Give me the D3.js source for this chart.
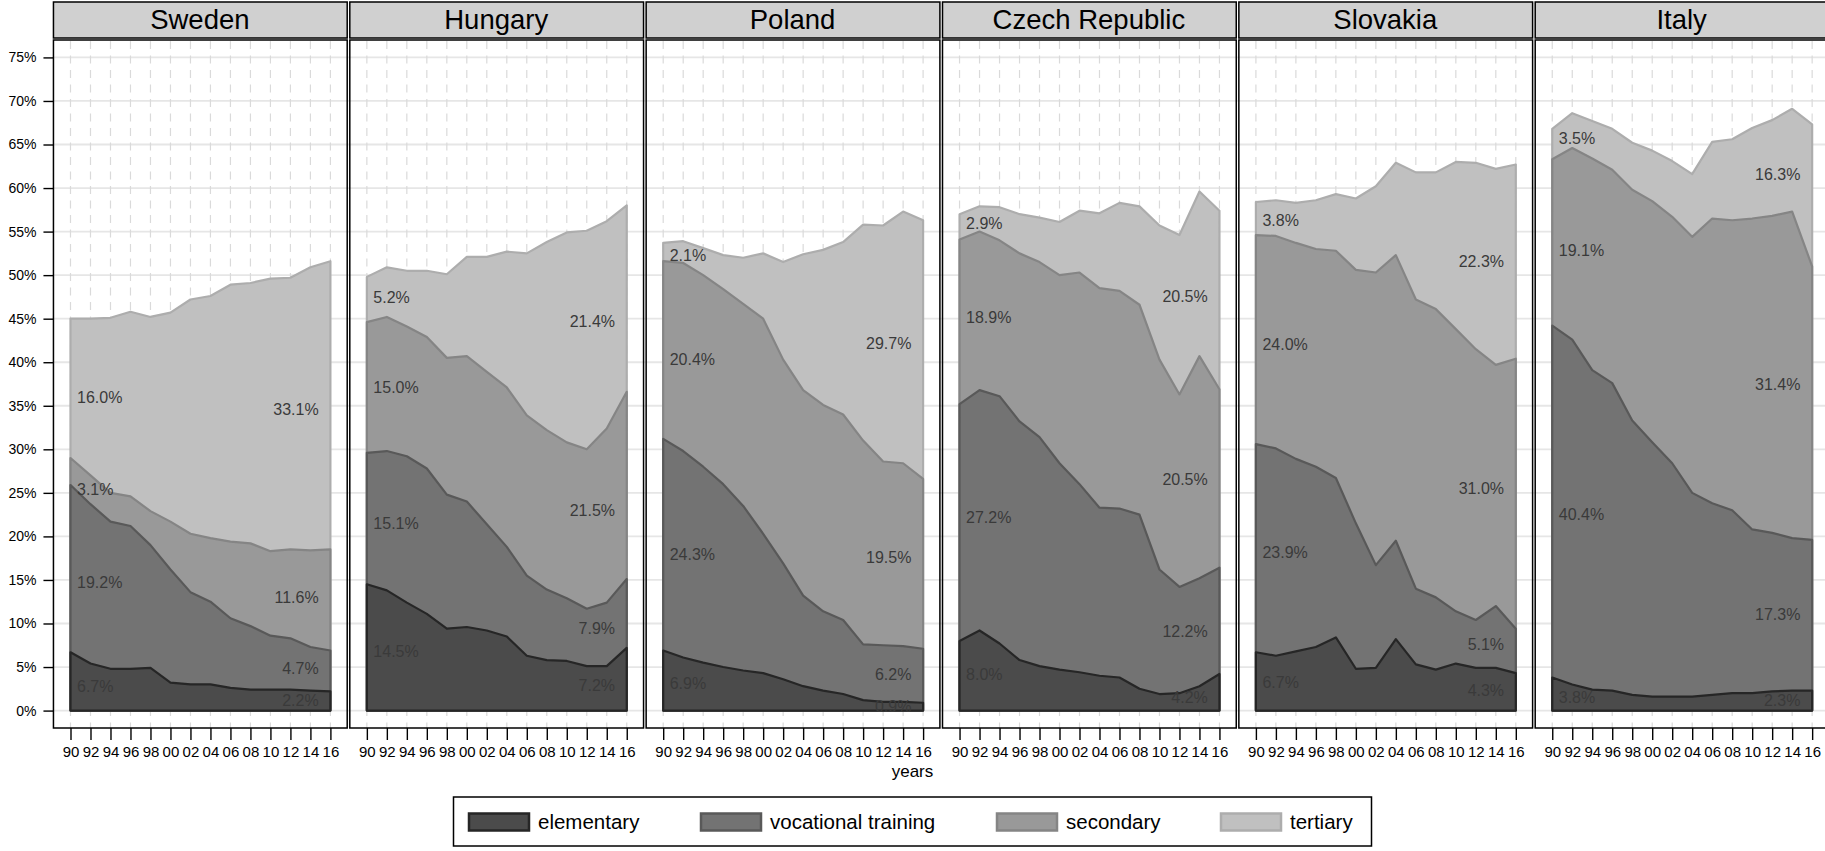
<!DOCTYPE html>
<html>
<head>
<meta charset="utf-8">
<script src="https://cdn.jsdelivr.net/npm/d3@7"></script>
<style>
  body { margin: 0; background: #fff; }
  text { font-family: "Liberation Sans", Arial, Helvetica, sans-serif; }
</style>
</head>
<body>
<svg id="chart" width="1825" height="851"></svg>
<script>
// ---- data: share of population by highest education level, per country ----
const years = [1990, 1992, 1994, 1996, 1998, 2000, 2002, 2004, 2006, 2008, 2010, 2012, 2014, 2016];
const yearTickLabels = ["90", "92", "94", "96", "98", "00", "02", "04", "06", "08", "10", "12", "14", "16"];
const countries = ["Sweden", "Hungary", "Poland", "Czech Republic", "Slovakia", "Italy"];
const levels = ["elementary", "vocational training", "secondary", "tertiary"];
const yTicks = [0, 5, 10, 15, 20, 25, 30, 35, 40, 45, 50, 55, 60, 65, 70, 75];

// one row per country, in the order of `countries`
const elementary = [
  [6.7, 5.4, 4.8, 4.8, 4.9, 3.2, 3.0, 3.0, 2.6, 2.4, 2.4, 2.4, 2.3, 2.2],
  [14.5, 13.8, 12.4, 11.1, 9.4, 9.6, 9.2, 8.5, 6.3, 5.8, 5.7, 5.1, 5.1, 7.2],
  [6.9, 6.1, 5.5, 5.0, 4.6, 4.3, 3.6, 2.8, 2.3, 1.9, 1.2, 1.0, 1.0, 0.9],
  [8.0, 9.2, 7.7, 5.8, 5.1, 4.7, 4.4, 4.0, 3.8, 2.5, 1.9, 2.0, 2.8, 4.2],
  [6.7, 6.3, 6.8, 7.3, 8.4, 4.8, 4.9, 8.2, 5.3, 4.7, 5.4, 4.9, 4.9, 4.3],
  [3.8, 3.0, 2.4, 2.3, 1.8, 1.6, 1.6, 1.6, 1.8, 2.0, 2.0, 2.2, 2.3, 2.3]
];
const vocational = [
  [19.2, 18.3, 16.9, 16.4, 14.1, 13.0, 10.6, 9.5, 8.0, 7.3, 6.2, 5.9, 5.0, 4.7],
  [15.1, 16.0, 16.8, 16.7, 15.4, 14.4, 12.2, 10.3, 9.2, 8.1, 7.2, 6.6, 7.3, 7.9],
  [24.3, 23.7, 22.5, 21.0, 18.9, 16.0, 13.3, 10.4, 9.1, 8.5, 6.4, 6.5, 6.4, 6.2],
  [27.2, 27.6, 28.4, 27.4, 26.3, 23.7, 21.6, 19.3, 19.4, 20.0, 14.3, 12.2, 12.4, 12.2],
  [23.9, 23.8, 22.1, 20.7, 18.3, 16.7, 11.8, 11.3, 8.7, 8.3, 6.0, 5.5, 7.1, 5.1],
  [40.4, 39.6, 36.7, 35.3, 31.5, 29.2, 26.8, 23.4, 22.0, 21.0, 18.8, 18.2, 17.5, 17.3]
];
const secondary = [
  [3.1, 3.3, 3.3, 3.4, 3.9, 5.5, 6.7, 7.3, 8.8, 9.5, 9.7, 10.2, 11.1, 11.6],
  [15.0, 15.4, 14.9, 15.1, 15.7, 16.7, 17.5, 18.3, 18.4, 18.3, 17.9, 18.3, 20.0, 21.5],
  [20.4, 21.6, 22.0, 22.4, 23.2, 24.7, 23.4, 23.6, 23.7, 23.6, 23.4, 21.1, 21.0, 19.5],
  [18.9, 18.2, 17.9, 19.3, 20.1, 21.6, 24.3, 25.2, 25.0, 24.1, 24.1, 22.1, 25.5, 20.5],
  [24.0, 24.4, 24.8, 25.0, 26.1, 29.1, 33.6, 32.8, 33.2, 33.1, 32.4, 31.1, 27.7, 31.0],
  [19.1, 22.0, 24.3, 24.5, 26.5, 27.7, 28.3, 29.4, 32.7, 33.3, 35.7, 36.4, 37.5, 31.4]
];
const tertiary = [
  [16.0, 18.0, 20.1, 21.2, 22.3, 24.0, 26.9, 27.8, 29.5, 29.9, 31.3, 31.2, 32.5, 33.1],
  [5.2, 5.7, 6.4, 7.6, 9.6, 11.4, 13.2, 15.6, 18.6, 21.6, 24.1, 25.1, 23.8, 21.4],
  [2.1, 2.5, 3.1, 3.9, 5.3, 7.5, 11.2, 15.6, 17.8, 19.8, 24.8, 27.1, 28.9, 29.7],
  [2.9, 2.9, 3.8, 4.5, 5.1, 6.1, 7.1, 8.6, 10.1, 11.3, 15.4, 18.3, 18.9, 20.5],
  [3.8, 4.1, 4.6, 5.6, 6.5, 8.2, 9.9, 10.6, 14.6, 15.7, 19.2, 21.4, 22.5, 22.3],
  [3.5, 4.0, 4.3, 4.7, 5.4, 5.8, 6.4, 7.2, 8.8, 9.3, 10.4, 11.0, 11.8, 16.3]
];
const seriesByLevel = [elementary, vocational, secondary, tertiary];

// ---- styling ----
const fills   = ["#4b4b4b", "#737373", "#999999", "#c0c0c0"];
const strokes = ["#262626", "#595959", "#858585", "#adadad"];
const labelColor = "#3a3a3a";

// ---- layout ----
const svg = d3.select("#chart");
const panelW = 296.35, firstPanelX = 52.7;
const panelTop = 40, panelBottom = 728;
const stripTop = 2, stripBottom = 38;
const y = d3.scaleLinear().domain([-2, 77]).range([panelBottom, panelTop]);
const fmt = v => v.toFixed(1) + "%";

countries.forEach((country, ci) => {
  const L = firstPanelX + ci * panelW;
  const x = d3.scaleLinear().domain([1990, 2016]).range([L + 17.8, L + 277.7]);
  const g = svg.append("g").attr("class", "panel");

  // background grid: solid horizontal lines, dashed verticals
  g.selectAll("line.hgrid").data(yTicks).join("line")
    .attr("class", "hgrid")
    .attr("x1", L).attr("x2", L + panelW)
    .attr("y1", d => y(d)).attr("y2", d => y(d))
    .attr("stroke", "#e6e6e6").attr("stroke-width", 1.8);
  g.selectAll("line.vgrid").data(years).join("line")
    .attr("class", "vgrid")
    .attr("x1", d => x(d)).attr("x2", d => x(d))
    .attr("y1", panelTop + 1).attr("y2", panelBottom)
    .attr("stroke", "#dadada").attr("stroke-width", 1.2)
    .attr("stroke-dasharray", "8,6.5");

  // stacked areas, each filled from zero up to its cumulative top
  const rows = years.map((yr, k) => {
    const r = { year: yr };
    levels.forEach((lv, li) => { r[lv] = seriesByLevel[li][ci][k]; });
    return r;
  });
  const stacked = d3.stack().keys(levels)(rows);
  const area = d3.area()
    .x(d => x(d.data.year))
    .y0(y(0))
    .y1(d => y(d[1]));
  for (let li = levels.length - 1; li >= 0; li--) {
    g.append("path")
      .datum(stacked[li])
      .attr("d", area)
      .attr("fill", fills[li])
      .attr("stroke", strokes[li])
      .attr("stroke-width", 2.2)
      .attr("stroke-linejoin", "round");
  }

  // value labels at both ends of every band
  const n = years.length;
  const midAvg = (s, idx) => d3.mean(idx, k => (s[k][0] + s[k][1]) / 2);
  stacked.forEach((s, li) => {
    g.append("text")
      .attr("x", x(1990) + 6.5)
      .attr("y", y(midAvg(s, [0, 1, 2])))
      .attr("dy", "0.36em")
      .attr("font-size", 16)
      .attr("fill", labelColor)
      .text(fmt(s[0][1] - s[0][0]));
    g.append("text")
      .attr("x", x(2016) - 11.7)
      .attr("y", y(midAvg(s, [n - 3, n - 2, n - 1])))
      .attr("dy", "0.36em")
      .attr("text-anchor", "end")
      .attr("font-size", 16)
      .attr("fill", labelColor)
      .text(fmt(s[n - 1][1] - s[n - 1][0]));
  });

  // panel frame
  g.append("rect")
    .attr("x", L + 0.75).attr("y", panelTop)
    .attr("width", panelW - 2.6).attr("height", panelBottom - panelTop)
    .attr("fill", "none").attr("stroke", "#000").attr("stroke-width", 1.5);

  // strip with the country name
  g.append("rect")
    .attr("x", L + 0.75).attr("y", stripTop)
    .attr("width", panelW - 2.6).attr("height", stripBottom - stripTop)
    .attr("fill", "#d0d0d0").attr("stroke", "#000").attr("stroke-width", 1.5);
  g.append("text")
    .attr("x", L + panelW / 2 - 1).attr("y", 28.5)
    .attr("text-anchor", "middle")
    .attr("font-size", 27.5)
    .attr("fill", "#000")
    .text(country);

  // x axis below the panel
  const xAxis = d3.axisBottom(x)
    .tickValues(years)
    .tickFormat((d, k) => yearTickLabels[k])
    .tickSize(12)
    .tickPadding(6);
  const ax = g.append("g")
    .attr("transform", `translate(0,${panelBottom})`)
    .call(xAxis);
  ax.select(".domain").remove();
  ax.selectAll(".tick line").attr("stroke", "#000").attr("stroke-width", 1.4);
  ax.selectAll(".tick text")
    .attr("font-size", 15)
    .attr("fill", "#000")
    .attr("font-family", "'Liberation Sans', Arial, sans-serif");
});

// y axis on the first panel
const yAxis = d3.axisLeft(y)
  .tickValues(yTicks)
  .tickFormat(d => d + "%")
  .tickSize(10)
  .tickPadding(7);
const ay = svg.append("g")
  .attr("transform", `translate(${firstPanelX + 0.75},0)`)
  .call(yAxis);
ay.select(".domain").remove();
ay.selectAll(".tick line").attr("stroke", "#000").attr("stroke-width", 1.4);
ay.selectAll(".tick text")
  .attr("font-size", 14)
  .attr("fill", "#000")
  .attr("font-family", "'Liberation Sans', Arial, sans-serif");

// axis title
svg.append("text")
  .attr("x", 912.5).attr("y", 777)
  .attr("text-anchor", "middle")
  .attr("font-size", 17)
  .attr("fill", "#000")
  .text("years");

// legend
const legend = svg.append("g");
legend.append("rect")
  .attr("x", 453.5).attr("y", 797)
  .attr("width", 918).attr("height", 49)
  .attr("fill", "#fff").attr("stroke", "#000").attr("stroke-width", 1.5);
const legendX = [468, 700, 996, 1220];
levels.forEach((lv, li) => {
  legend.append("rect")
    .attr("x", legendX[li] + 1).attr("y", 813.5)
    .attr("width", 60).attr("height", 17)
    .attr("fill", fills[li]).attr("stroke", strokes[li]).attr("stroke-width", 2.5);
  legend.append("text")
    .attr("x", legendX[li] + 70).attr("y", 822)
    .attr("dy", "0.35em")
    .attr("font-size", 20.5)
    .attr("fill", "#000")
    .text(lv);
});
</script>
</body>
</html>
